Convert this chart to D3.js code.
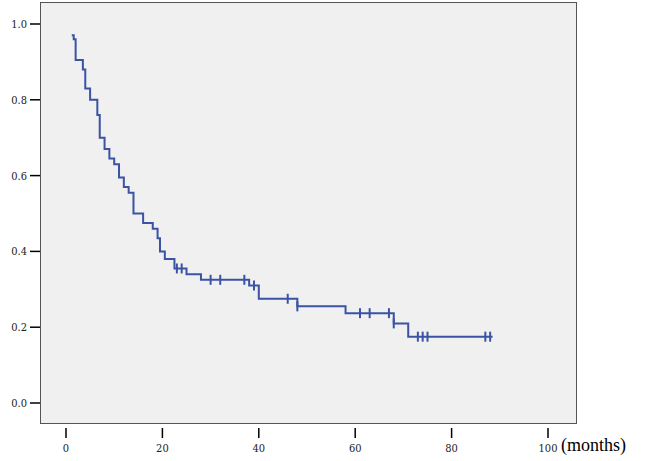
<!DOCTYPE html>
<html><head><meta charset="utf-8">
<script src="https://cdn.jsdelivr.net/npm/d3@7"></script>
<style>body{margin:0;background:#fff}</style>
</head><body>
<svg id="km" width="652" height="461"></svg>
<script>
// step times (months) and survival after each step
const stepTimes = [1.2, 1.6, 2, 3.5, 4, 5, 6.5, 7, 8, 9, 10, 11, 12, 13, 14, 16, 18, 19, 19.5, 20.5, 22.5, 25, 28, 38, 40, 48, 58, 68, 71, 88.5];
const survival  = [0.97, 0.96, 0.905, 0.88, 0.83, 0.80, 0.76, 0.70, 0.67, 0.645, 0.63, 0.595, 0.57, 0.555, 0.50, 0.475, 0.46, 0.435, 0.40, 0.38, 0.355, 0.34, 0.325, 0.31, 0.275, 0.255, 0.237, 0.21, 0.175, 0.175];
const censorTimes = [23, 24, 30, 32, 37, 39, 46, 48, 61, 63, 67, 68, 73, 74, 75, 87, 88];
const xTicks = [0, 20, 40, 60, 80, 100];
const yTicks = [0, 0.2, 0.4, 0.6, 0.8, 1.0];

const svg = d3.select("#km");
const x = d3.scaleLinear().domain([0, 100]).range([66, 548]);
const y = d3.scaleLinear().domain([0, 1]).range([403, 24]);

svg.append("rect")
    .attr("x", 40.5).attr("y", 2.5)
    .attr("width", 536).attr("height", 421)
    .attr("fill", "#f0f0f0").attr("stroke", "#555").attr("stroke-width", 1);

// y axis ticks
yTicks.forEach(v => {
    svg.append("line").attr("x1", 30).attr("x2", 40).attr("y1", y(v)).attr("y2", y(v))
        .attr("stroke", "#000").attr("stroke-width", 1.5);
    svg.append("text").text(v.toFixed(1)).attr("x", 27).attr("y", y(v) + 4)
        .attr("text-anchor", "end").attr("font-family", "'DejaVu Serif Condensed', serif")
        .attr("font-size", 11).attr("fill", "#222");
});
// x axis ticks
xTicks.forEach(v => {
    svg.append("line").attr("x1", x(v)).attr("x2", x(v)).attr("y1", 428).attr("y2", 438)
        .attr("stroke", "#000").attr("stroke-width", 1.5);
    svg.append("text").text(v).attr("x", x(v)).attr("y", 452)
        .attr("text-anchor", "middle").attr("font-family", "'DejaVu Serif Condensed', serif")
        .attr("font-size", 11).attr("fill", "#222");
});
svg.append("text").text("(months)").attr("x", 561).attr("y", 451)
    .attr("font-family", "'Liberation Serif', serif").attr("font-size", 18).attr("fill", "#000");

const pts = stepTimes.map((t, i) => [t, survival[i]]);
const line = d3.line().x(d => x(d[0])).y(d => y(d[1])).curve(d3.curveStepAfter);
svg.append("path").datum(pts).attr("d", line)
    .attr("fill", "none").attr("stroke", "#3a53a4").attr("stroke-width", 2);

function survAt(t) {
    let s = 1;
    stepTimes.forEach((st, i) => { if (st <= t) s = survival[i]; });
    return s;
}
svg.selectAll(".cens").data(censorTimes).enter().append("line")
    .attr("x1", d => x(d)).attr("x2", d => x(d))
    .attr("y1", d => y(survAt(d)) - 5).attr("y2", d => y(survAt(d)) + 5)
    .attr("stroke", "#3a53a4").attr("stroke-width", 2);
</script>
</body></html>
